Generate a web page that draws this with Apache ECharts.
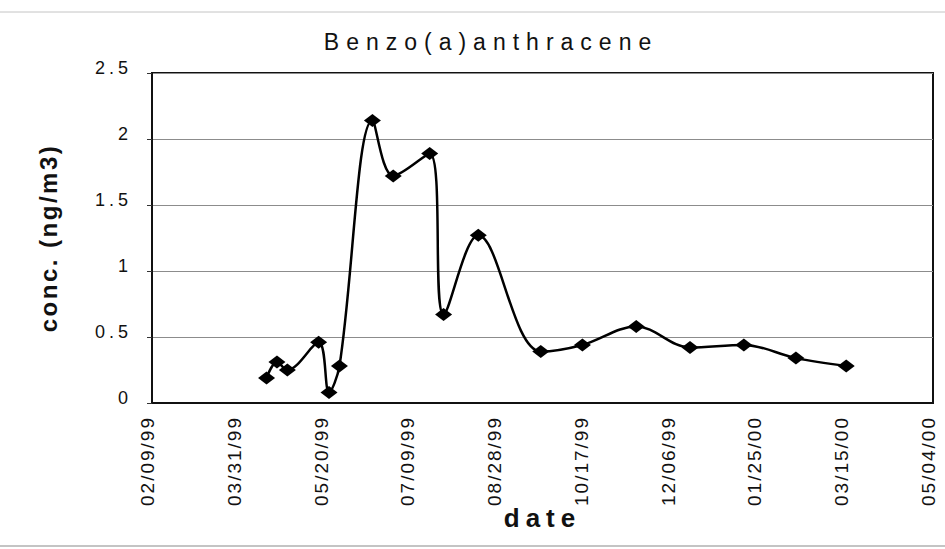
<!DOCTYPE html>
<html>
<head>
<meta charset="utf-8">
<script src="https://cdn.jsdelivr.net/npm/echarts@6/dist/echarts.min.js"></script>
<style>
  html, body { margin: 0; padding: 0; background: #ffffff; }
  #chart { width: 945px; height: 549px; }
  /* approximate the stretched, letter-spaced lettering of the original print */
  #chart text[style*="23px"] { letter-spacing: 7px; }
  #chart text[style*="18px"] { letter-spacing: 4px; }
  #chart text[style*="19px"] { letter-spacing: 2px; }
  #chart text[style*="24px"] { letter-spacing: 2.5px; }
  #chart text[style*="26px"] { letter-spacing: 6px; }
</style>
</head>
<body>
<div id="chart"></div>
<script>
// ---- data ----
const chartTitle = 'Benzo(a)anthracene';
const xAxisName = 'date';
const yAxisName = 'conc. (ng/m3)';
const axisStart = '1999-02-09';   // first x tick (02/09/99)
const axisEnd = '2000-05-04';     // last x tick (05/04/00)
const tickDays = 50;              // tick spacing in days
const sampleDates = [
  '1999-04-16', '1999-04-22', '1999-04-28', '1999-05-16', '1999-05-22', '1999-05-28',
  '1999-06-16', '1999-06-28', '1999-07-19', '1999-07-27', '1999-08-16', '1999-09-21',
  '1999-10-15', '1999-11-15', '1999-12-16', '2000-01-16', '2000-02-15', '2000-03-15'
];
const concValues = [
  0.19, 0.31, 0.25, 0.46, 0.08, 0.28,
  2.14, 1.72, 1.89, 0.67, 1.27, 0.39,
  0.44, 0.58, 0.42, 0.44, 0.34, 0.28
];
const yMin = 0, yMax = 2.5, yStep = 0.5;

// ---- build ----
const DAY = 86400000;
const t0 = Date.parse(axisStart + 'T00:00:00Z');
const dayOf = s => Math.round((Date.parse(s + 'T00:00:00Z') - t0) / DAY);
const xMax = dayOf(axisEnd);
const seriesData = sampleDates.map((d, i) => [dayOf(d), concValues[i]]);
const pad = n => (n < 10 ? '0' : '') + n;
const fmtDate = v => {
  const d = new Date(t0 + v * DAY);
  return pad(d.getUTCMonth() + 1) + '/' + pad(d.getUTCDate()) + '/' + pad(d.getUTCFullYear() % 100);
};

const FONT = '"Liberation Sans", Arial, sans-serif';
const chart = echarts.init(document.getElementById('chart'), null, { renderer: 'svg' });
chart.setOption({
  animation: false,
  backgroundColor: '#ffffff',
  title: {
    text: chartTitle,
    left: 491, top: 30, textAlign: 'center', padding: 0,
    textStyle: { fontFamily: FONT, fontSize: 23, fontWeight: 'normal', color: '#111' }
  },
  grid: {
    left: 152, top: 73, width: 781, height: 330,
    show: true, borderColor: '#111', borderWidth: 2, backgroundColor: 'transparent',
    outerBoundsMode: 'none', containLabel: false
  },
  xAxis: {
    type: 'value', min: 0, max: xMax, interval: tickDays,
    name: xAxisName, nameLocation: 'middle', nameGap: 102,
    nameTextStyle: { fontFamily: FONT, fontSize: 26, fontWeight: 'bold', color: '#111' },
    axisLine: { show: true, onZero: false, lineStyle: { color: '#111', width: 2 } },
    axisTick: { show: false },
    splitLine: { show: false },
    axisLabel: {
      rotate: 90, margin: 13, formatter: fmtDate,
      fontFamily: FONT, fontSize: 19, color: '#111',
      verticalAlign: 'bottom', lineHeight: 9
    }
  },
  yAxis: {
    type: 'value', min: yMin, max: yMax, interval: yStep,
    name: yAxisName, nameLocation: 'middle', nameGap: 92, nameRotate: 90,
    nameTextStyle: { fontFamily: FONT, fontSize: 24, fontWeight: 'bold', color: '#111' },
    axisLine: { show: true, lineStyle: { color: '#111', width: 2 } },
    axisTick: { show: true, inside: false, length: 5, lineStyle: { color: '#333', width: 1 } },
    splitLine: { show: true, lineStyle: { color: '#8c8c8c', width: 1 } },
    axisLabel: {
      margin: 20, fontFamily: FONT, fontSize: 18, color: '#111',
      verticalAlign: 'bottom', lineHeight: 10,
      formatter: v => String(v)
    }
  },
  series: [{
    type: 'line',
    data: seriesData,
    smooth: 0.35,
    symbol: 'diamond',
    symbolSize: [17, 13],
    itemStyle: { color: '#000' },
    lineStyle: { color: '#000', width: 2.5 },
    z: 3
  }],
  graphic: [
    { type: 'line', shape: { x1: 0, y1: 12, x2: 945, y2: 12 }, style: { stroke: '#c4c4c4', lineWidth: 1 }, silent: true },
    { type: 'line', shape: { x1: 0, y1: 546, x2: 945, y2: 546 }, style: { stroke: '#b0b0b0', lineWidth: 1.5 }, silent: true }
  ]
});
</script>
</body>
</html>
